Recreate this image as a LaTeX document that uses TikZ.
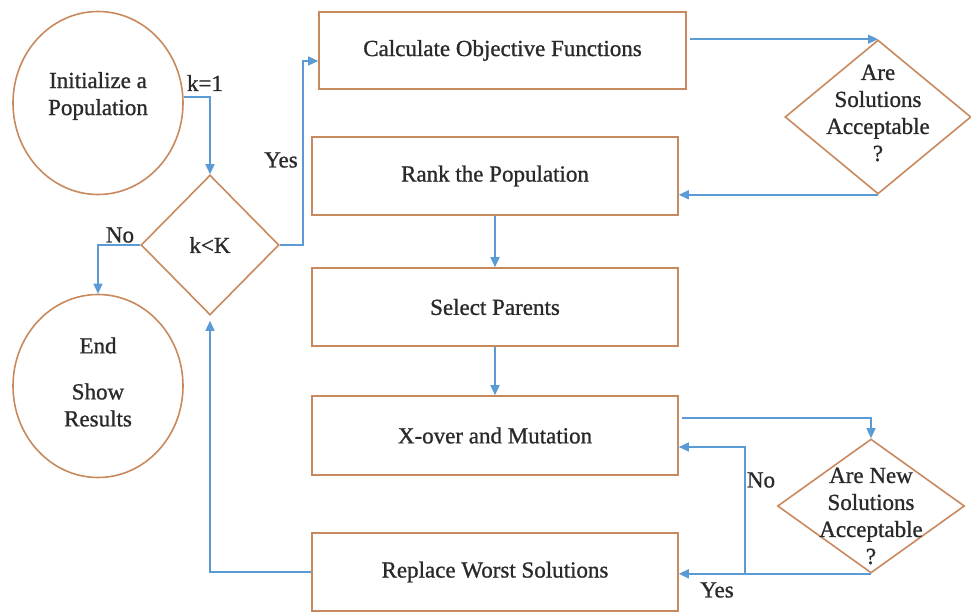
\documentclass[tikz,border=0pt]{standalone}
\usepackage{fontspec}
\setmainfont{Liberation Serif}
\newfontfamily\diafont{Liberation Serif}[FakeBold=1.0]
\usetikzlibrary{shapes.geometric,arrows.meta,calc}
\definecolor{bord}{HTML}{C8895E}
\definecolor{arr}{HTML}{5B9BD5}
\definecolor{txt}{HTML}{2A2A2A}
\begin{document}
\begin{tikzpicture}[x=1bp,y=-1bp,
  font=\diafont\fontsize{23bp}{27bp}\selectfont,
  txtn/.style={text=txt,align=center,inner sep=0pt},
  circ/.style={ellipse,draw=bord,line width=1.6bp,inner sep=0pt,minimum width=170bp,minimum height=183bp},
  boxn/.style={rectangle,draw=bord,line width=1.6bp,inner sep=0pt,minimum width=366bp,minimum height=78bp,text=txt},
  dia/.style={diamond,draw=bord,line width=1.6bp,inner sep=0pt},
  conn/.style={draw=arr,line width=1.5bp,-{Triangle[length=10bp,width=9bp]}},
  plain/.style={draw=arr,line width=1.5bp}
]
\useasboundingbox (0,0) rectangle (971,613);
% shapes
\node[circ] (init) at (98,103) {};
\node[txtn] (initt) at (98,96) {Initialize a\\Population};
\node[circ] (endc) at (98,386) {};
\node[txtn] (endt) at (98,382) {End\\[19bp]Show\\Results};
\node[dia,minimum width=138bp,minimum height=140bp,text=txt] (kK) at (210,245) {k<K};
\node[boxn,minimum width=367bp,minimum height=77bp] (calc) at (502.5,50.5) {Calculate Objective Functions};
\node[boxn] (rank) at (495,176) {Rank the Population};
\node[boxn] (sel) at (495,307) {Select Parents};
\node[boxn,minimum height=79bp] (xo) at (495,435.5) {X-over and Mutation};
\node[boxn] (rep) at (495,572) {Replace Worst Solutions};
\node[dia,minimum width=186bp,minimum height=154bp] (d1) at (878,117) {};
\node[txtn] (d1t) at (878,113) {Are\\Solutions\\Acceptable\\?};
\node[dia,minimum width=187bp,minimum height=134bp] (d2) at (871,506) {};
\node[txtn] (d2t) at (871,516) {Are New\\Solutions\\Acceptable\\?};
% helper coordinates
\coordinate (y61) at (0,61);
\coordinate (xyes) at (303,0);
\coordinate (y418) at (0,418);
\coordinate (y447) at (0,447);
\coordinate (xno) at (745,0);
\coordinate (xcalc) at (690,0);
\coordinate (xo2) at (682,0);
% connectors
\draw[conn] (init.4) -| (kK.north);
\draw[conn] (kK.west) -| (endc.north);
\draw[conn] (kK.east) -- (kK.east -| xyes) |- (calc.west |- y61);
\draw[conn] (xcalc |- d1.north) -- (d1.north);
\draw[conn] (d1.south) -- (d1.south -| rank.east);
\draw[conn] (rank.south) -- (sel.north);
\draw[conn] (sel.south) -- (xo.north);
\draw[conn] (xo2 |- y418) -| (d2.north);
\draw[conn] (d2.south) -- (d2.south -| rep.east);
\coordinate (nofork) at (d2.south -| xno);
\draw[conn] (nofork) |- (xo.east |- y447);
\draw[conn,shorten >=5bp] (rep.west) -| (kK.south);
% labels
\node[txtn] (lk1) at (205,83) {k=1};
\node[txtn] (lno1) at (120,235) {No};
\node[txtn] (lyes1) at (281,160) {Yes};
\node[txtn] (lno2) at (761,480) {No};
\node[txtn] (lyes2) at (717,590) {Yes};
\end{tikzpicture}
\end{document}
